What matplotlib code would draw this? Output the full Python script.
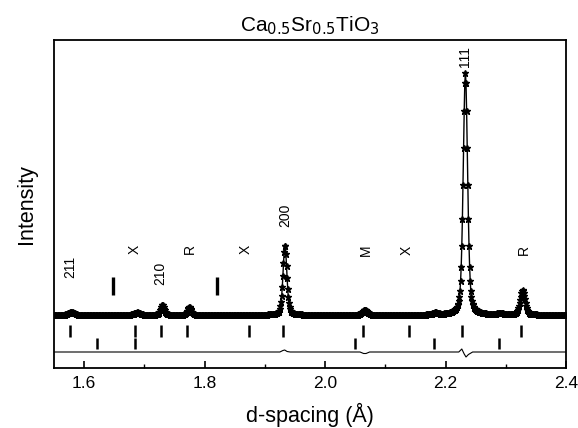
import numpy as np
import matplotlib
matplotlib.use("Agg")
import matplotlib.pyplot as plt

plt.rcParams['font.family'] = ['Liberation Sans', 'DejaVu Sans']

# peaks: d-spacing, height above background, FWHM
peak_d = [1.579, 1.688, 1.730, 1.7746, 1.9334, 2.066, 2.183, 2.233, 2.291, 2.3281]
peak_h = [3.0, 2.5, 10.0, 8.0, 70.0, 5.0, 2.0, 242.0, 1.5, 25.0]
peak_w = [0.012, 0.012, 0.0075, 0.0075, 0.0075, 0.010, 0.010, 0.0085, 0.012, 0.0095]
background = 53.0

# reflection markers (two phases) and impurity markers
refl_1 = [1.577, 1.685, 1.727, 1.771, 1.873, 1.931, 2.063, 2.140, 2.228, 2.326]
refl_2 = [1.621, 1.685, 2.049, 2.181, 2.289]
extra_bars = [1.648, 1.820]

# difference curve
diff_d = [1.55, 1.925, 1.930, 1.933, 1.937, 1.942, 2.058, 2.064, 2.068, 2.074,
          2.222, 2.227, 2.231, 2.234, 2.238, 2.245, 2.40]
diff_v = [0, 0, 1.5, 2.0, 0.5, 0, 0, -1.5, -1.5, 0,
          0, 3.0, -2.0, -5.0, -2.5, 0, 0]
diff_offset = 16.0

# peak annotations
labels = ["211", "X", "210", "R", "X", "200", "M", "X", "111", "R"]
label_d = [1.5766, 1.6836, 1.727, 1.776, 1.869, 1.934, 2.067, 2.135, 2.233, 2.330]
label_y = [101, 119, 95, 119, 119, 153, 118, 118, 311, 118]


def profile(d):
    y = np.full_like(d, background)
    for c, h, w in zip(peak_d, peak_h, peak_w):
        g = np.exp(-4 * np.log(2) * ((d - c) / w) ** 2)
        l = 1.0 / (1.0 + 4 * ((d - c) / w) ** 2)
        y += h * (0.6 * g + 0.4 * l)
    return y


d = np.arange(1.55, 2.4005, 0.001)
obs = profile(d)

fig = plt.figure(figsize=(5.78, 4.28), dpi=100)
ax = fig.add_axes([54 / 578, 1 - 368 / 428, (566 - 54) / 578, (368 - 40) / 428])

ax.plot(d, obs, linestyle='none', marker='*', markersize=4.5,
        color='black', markeredgewidth=1.0)
ax.plot(d, obs, color='black', linewidth=1.0)

ax.vlines(refl_1, 31.3, 43, color='black', linewidth=1.8)
ax.vlines(refl_2, 19, 30, color='black', linewidth=1.8)
ax.vlines(extra_bars, 73.5, 91.3, color='black', linewidth=2.4)

ax.plot(diff_d, np.array(diff_v) + diff_offset, color='black', linewidth=0.8)

for txt, x, y in zip(labels, label_d, label_y):
    ax.text(x, y, txt, rotation=90, ha='center', va='center', fontsize=10)

ax.set_xlim(1.55, 2.40)
ax.set_ylim(0, 328)
ax.set_xticks([1.6, 1.8, 2.0, 2.2, 2.4])
ax.set_xticks([1.7, 1.9, 2.1, 2.3], minor=True)
ax.set_xticklabels(["1.6", "1.8", "2.0", "2.2", "2.4"])
ax.set_yticks([])
ax.tick_params(axis='x', which='major', direction='in', length=5, width=1.2,
               labelsize=12.5, pad=6)
ax.tick_params(axis='x', which='minor', direction='in', length=3, width=1.0)
for s in ax.spines.values():
    s.set_linewidth(1.3)

ax.set_xlabel("d-spacing (Å)", fontsize=15.5, labelpad=8)
ax.set_ylabel("Intensity", fontsize=15.5, labelpad=12)
ax.set_title("Ca$_{0.5}$Sr$_{0.5}$TiO$_3$", fontsize=15, pad=6)

fig.savefig("out.png", dpi=100)
